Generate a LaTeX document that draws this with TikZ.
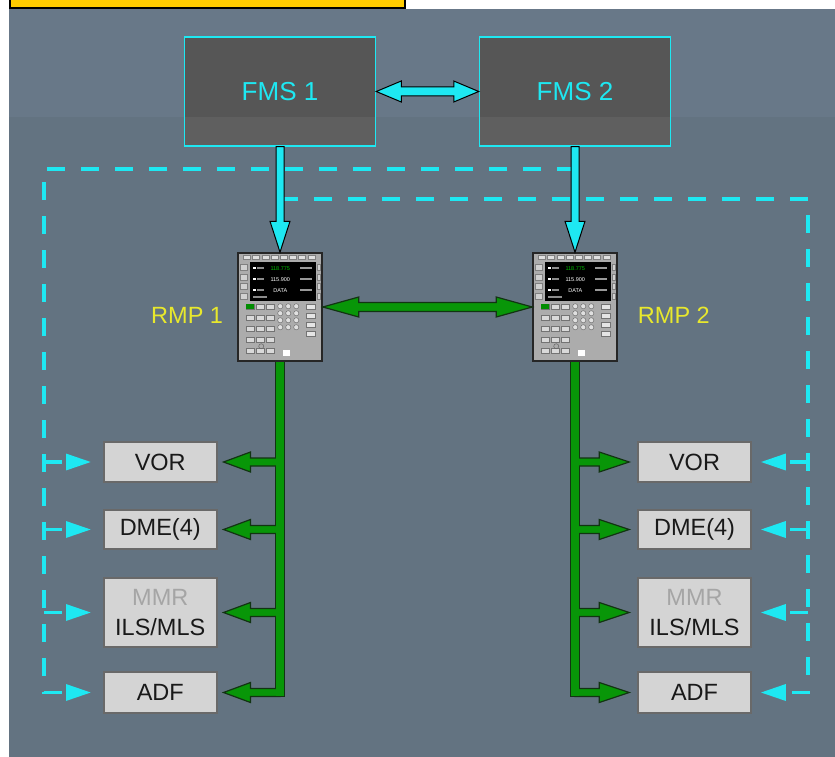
\documentclass[tikz,border=0pt]{standalone}
\usepackage{fontspec}
\setmainfont{Liberation Sans}
\usetikzlibrary{positioning,calc,arrows.meta}

\definecolor{slatetop}{RGB}{104,120,136}
\definecolor{slatelow}{RGB}{99,115,129}
\definecolor{tagyellow}{RGB}{255,204,0}
\definecolor{fmsgray}{RGB}{86,86,86}
\definecolor{fmslow}{RGB}{95,95,95}
\definecolor{linkcyan}{RGB}{30,232,242}
\definecolor{busgreen}{RGB}{8,150,8}
\definecolor{busedge}{RGB}{18,52,18}
\definecolor{rmpyellow}{RGB}{232,232,45}
\definecolor{boxgray}{RGB}{212,212,212}
\definecolor{boxedge}{RGB}{105,105,105}
\definecolor{mmrgray}{RGB}{165,165,165}
\definecolor{panelgray}{RGB}{172,172,172}

\tikzset{
  fat/.style n args={3}{to path={
    ($(\tikztostart)!#1!90:(\tikztotarget)$)
    -- ($(\tikztotarget)!#3!(\tikztostart)!#1!90:(\tikztotarget)$)
    -- ($(\tikztotarget)!#3!(\tikztostart)!#2!90:(\tikztotarget)$)
    -- (\tikztotarget)
    -- ($(\tikztotarget)!#3!(\tikztostart)!#2!-90:(\tikztotarget)$)
    -- ($(\tikztotarget)!#3!(\tikztostart)!#1!-90:(\tikztotarget)$)
    -- ($(\tikztostart)!#1!-90:(\tikztotarget)$) -- cycle}},
  fat2/.style n args={3}{to path={
    (\tikztostart)
    -- ($(\tikztostart)!#3!(\tikztotarget)!#2!90:(\tikztotarget)$)
    -- ($(\tikztostart)!#3!(\tikztotarget)!#1!90:(\tikztotarget)$)
    -- ($(\tikztotarget)!#3!(\tikztostart)!#1!90:(\tikztotarget)$)
    -- ($(\tikztotarget)!#3!(\tikztostart)!#2!90:(\tikztotarget)$)
    -- (\tikztotarget)
    -- ($(\tikztotarget)!#3!(\tikztostart)!#2!-90:(\tikztotarget)$)
    -- ($(\tikztotarget)!#3!(\tikztostart)!#1!-90:(\tikztotarget)$)
    -- ($(\tikztostart)!#3!(\tikztotarget)!#1!-90:(\tikztotarget)$)
    -- ($(\tikztostart)!#3!(\tikztotarget)!#2!-90:(\tikztotarget)$)
    -- cycle}}
}

\begin{document}
\begin{tikzpicture}[x=1pt,y=-1pt,
    fms/.style={draw=linkcyan,line width=1.5pt,fill=fmsgray,minimum width=191pt,minimum height=109pt,
      inner sep=0pt,text=linkcyan,font=\fontsize{26}{26}\selectfont,
      path picture={\fill[fmslow] ([yshift=29pt]path picture bounding box.south west) rectangle (path picture bounding box.south east);}},
    rmp/.style={draw=black!85,line width=1.5pt,fill=panelgray,minimum width=84pt,minimum height=108pt,inner sep=0pt},
    rmptag/.style={text=rmpyellow,font=\fontsize{23.5}{23.5}\selectfont,inner sep=0pt},
    radio/.style={draw=boxedge,line width=2pt,fill=boxgray,minimum width=112.5pt,minimum height=40pt,
      inner sep=0pt,text=black!90,font=\fontsize{23.5}{30}\selectfont},
    cyanpipe/.style={draw=black,line width=1pt,fill=linkcyan,line join=miter},
    greenpipe/.style={draw=busedge,line width=1.2pt,fill=busgreen,line join=miter},
    dashlink/.style={draw=linkcyan,line width=3.2pt,dash pattern=on 18pt off 16pt,-{Triangle[length=25pt,width=16pt]}}]

\useasboundingbox (0,0) rectangle (835,757);
\fill[slatelow] (9,9) rectangle (835,757);
\fill[slatetop] (9,9) rectangle (835,117);
\draw[fill=tagyellow,line width=1.5pt] (10,-3) rectangle (405,8);

\node[fms] (fms1) at (280,91.5) {FMS 1};
\node[fms] (fms2) at (575,91.5) {FMS 2};
\node[rmp] (rmp1) at (280,307) {};
\node[rmp] (rmp2) at (575,307) {};
\node[rmptag,left=14pt of rmp1,yshift=-8pt] (tag1) {RMP 1};
\node[rmptag,right=20pt of rmp2,yshift=-8pt] (tag2) {RMP 2};

\foreach \s/\x in {1/160.25,2/694.5}{
  \node[radio] (vor\s) at (\x,462) {VOR};
  \node[radio,minimum height=39pt] (dme\s) at (\x,529.5) {DME(4)};
  \node[radio,minimum height=69pt,align=center] (mmr\s) at (\x,612.5) {{\color{mmrgray}MMR}\\ILS/MLS};
  \node[radio,minimum height=41pt] (adf\s) at (\x,692.5) {ADF};
}

\foreach \b in {vor,dme,mmr,adf}{
  \coordinate (\b1tip) at ([xshift=-12pt]\b1.west);
  \coordinate (\b2tip) at ([xshift=9pt]\b2.east);
  \coordinate (\b1in) at ([xshift=6pt]\b1.east);
  \coordinate (\b2in) at ([xshift=-8pt]\b2.west);
}

\coordinate (cornerL) at (44,169);
\coordinate (cornerR) at (808,199);
\coordinate (tapL) at (fms2.south |- cornerL);
\coordinate (tapR) at (fms1.south |- cornerR);
\draw[dashlink] (tapL) -- (cornerL) |- (adf1tip);
\draw[dashlink] (tapR) -- (cornerR) |- (adf2tip);
\foreach \b in {vor,dme,mmr}{
  \draw[dashlink] (cornerL |- \b1tip) -- (\b1tip);
  \draw[dashlink] (cornerR |- \b2tip) -- (\b2tip);
}

\path[cyanpipe] (fms1.east) to[fat2={4.5pt}{10.5pt}{25pt}] (fms2.west);
\path[cyanpipe] (fms1.south) to[fat={4pt}{10pt}{31pt}] (rmp1.north);
\path[cyanpipe] (fms2.south) to[fat={4pt}{10pt}{31pt}] (rmp2.north);

\foreach \r in {rmp1,rmp2}{
  \begin{scope}[shift={(\r.north west)}]
    \foreach \i in {0,...,7}
      \filldraw[fill=black!12,draw=black!50,line width=.3pt] (6+\i*9.2,2.5) rectangle ++(7,4);
    \foreach \j in {0,...,3}{
      \filldraw[fill=black!18,draw=black!50,line width=.3pt] (2.5,12+\j*9.5) rectangle ++(7,6);
      \filldraw[fill=black!18,draw=black!50,line width=.3pt] (80,12+\j*9.5) rectangle ++(2.5,6);}
    \fill[black] (13,10) rectangle (79,49);
    \foreach \k in {16,27,38}{
      \fill[white] (16,\k-1.2) rectangle ++(2.4,2.4);
      \fill[black!45] (19.5,\k-0.8) rectangle ++(7,1.6);
      \fill[black!40] (63,\k-0.8) rectangle ++(12,1.6);}
    \node[text=green!75!black,font=\fontsize{5.5}{5.5}\selectfont] (\r-act) at (43,16) {118.775};
    \node[text=white,font=\fontsize{5.5}{5.5}\selectfont] (\r-stby) at (43,27) {115.900};
    \node[text=white,font=\fontsize{5.5}{5.5}\selectfont] (\r-data) at (43,38) {DATA};
    \fill[black!45] (16,44) rectangle ++(14,1.5);
    \foreach \j in {0,...,4}
      \foreach \i in {0,1,2}
        \filldraw[fill=black!15,draw=black!55,line width=.3pt] (9+\i*10,52+\j*11) rectangle ++(7.5,5);
    \fill[green!55!black] (9,52) rectangle ++(7.5,5);
    \foreach \j in {0,...,3}
      \foreach \i in {0,1,2}
        \draw[black!55,line width=.5pt,fill=black!12] (43+\i*8,54+\j*7) circle (2.6);
    \foreach \j in {0,...,3}
      \filldraw[fill=black!10,draw=black!55,line width=.3pt] (69,52+\j*9) rectangle ++(9,5);
    \fill[white] (46,98) rectangle ++(7,6);
    \draw[black!60,line width=.5pt] (24,94) circle (2.5);
  \end{scope}
}

\foreach \s in {1,2}{
  \coordinate (bus\s) at (rmp\s.south |- adf\s.center);
  \draw[busedge,line width=10pt] (rmp\s.south) -- ([yshift=-4.6pt]bus\s);
}
\foreach \b in {vor,dme,mmr,adf}{
  \path[greenpipe] (rmp1.south |- \b1.east) to[fat={4pt}{10pt}{27pt}] (\b1in);
  \path[greenpipe] (rmp2.south |- \b2.west) to[fat={4pt}{10pt}{30pt}] (\b2in);
}
\foreach \s in {1,2}
  \draw[busgreen,line width=7.6pt] (rmp\s.south) -- ([yshift=-3.4pt]bus\s);

\path[greenpipe] (rmp1.east) to[fat2={4.5pt}{10pt}{36pt}] (rmp2.west);
\end{tikzpicture}
\end{document}
